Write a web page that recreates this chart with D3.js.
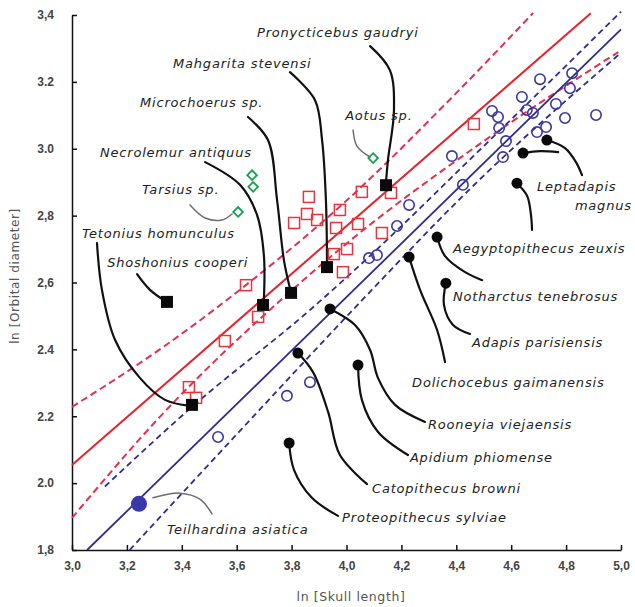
<!DOCTYPE html>
<html>
<head>
<meta charset="utf-8">
<script src="https://cdn.jsdelivr.net/npm/d3@7/dist/d3.min.js"></script>
<style>
  html, body { margin: 0; padding: 0; background: #fff; }
  svg { display: block; }
</style>
</head>
<body>
<svg id="chart" width="635" height="607"></svg>
<script>
// ---------- data ----------
const xTicks = [3.0, 3.2, 3.4, 3.6, 3.8, 4.0, 4.2, 4.4, 4.6, 4.8, 5.0];
const xTickLabels = ["3,0", "3,2", "3,4", "3,6", "3,8", "4,0", "4,2", "4,4", "4,6", "4,8", "5,0"];
const yTicks = [1.8, 2.0, 2.2, 2.4, 2.6, 2.8, 3.0, 3.2, 3.4];
const yTickLabels = ["1,8", "2.0", "2.2", "2.4", "2,6", "2,8", "3.0", "3.2", "3,4"];

// extant primates (open symbols)
const redSquares = [
  [3.426, 2.287], [3.452, 2.255], [3.557, 2.425], [3.634, 2.592], [3.678, 2.497],
  [3.809, 2.778], [3.856, 2.805], [3.863, 2.856], [3.893, 2.787], [3.962, 2.763],
  [3.954, 2.685], [3.976, 2.817], [4.002, 2.700], [3.987, 2.631], [4.042, 2.775],
  [4.056, 2.871], [4.129, 2.748], [4.162, 2.868], [4.464, 3.074]
];
const blueCircles = [
  [3.532, 2.138], [3.783, 2.261], [3.867, 2.302], [4.082, 2.673], [4.111, 2.682],
  [4.184, 2.769], [4.228, 2.832], [4.384, 2.978], [4.424, 2.892], [4.530, 3.113],
  [4.552, 3.095], [4.556, 3.062], [4.581, 3.023], [4.570, 2.975], [4.639, 3.155],
  [4.657, 3.116], [4.679, 3.107], [4.694, 3.050], [4.727, 3.065], [4.705, 3.208],
  [4.763, 3.134], [4.796, 3.092], [4.814, 3.181], [4.822, 3.226], [4.909, 3.101]
];
const greenDiamonds = [[3.656, 2.921], [3.660, 2.886], [3.605, 2.811], [4.097, 2.972]];

// fossils
const blackSquares = [
  ["Shoshonius cooperi", 3.346, 2.542],
  ["Tetonius homunculus", 3.437, 2.234],
  ["Necrolemur antiquus", 3.696, 2.533],
  ["Microchoerus sp.", 3.798, 2.569],
  ["Mahgarita stevensi", 3.929, 2.646],
  ["Pronycticebus gaudryi", 4.144, 2.891]
];
const blackCircles = [
  ["Leptadapis magnus", 4.730, 3.026],
  ["Leptadapis magnus", 4.643, 2.987],
  ["Aegyptopithecus zeuxis", 4.621, 2.897],
  ["Notharctus tenebrosus", 4.330, 2.736],
  ["Adapis parisiensis", 4.362, 2.598],
  ["Dolichocebus gaimanensis", 4.228, 2.676],
  ["Rooneyia viejaensis", 3.940, 2.521],
  ["Apidium phiomense", 4.042, 2.353],
  ["Catopithecus browni", 3.823, 2.389],
  ["Proteopithecus sylviae", 3.791, 2.120]
];
const teilhardina = [["Teilhardina asiatica", 3.244, 1.938]];

// regression lines and confidence bands (data units)
const redFit = [[3.0, 2.054], [4.89, 3.405]];
const redBandUpper = [[3.0, 2.228], [3.32, 2.40], [3.63, 2.59], [3.98, 2.83], [4.38, 3.15], [4.68, 3.406]];
const redBandLower = [[3.0, 1.896], [3.32, 2.198], [3.79, 2.569], [3.98, 2.703], [4.49, 3.017], [4.99, 3.289]];
const blueFit = [[3.055, 1.8], [5.0, 3.357]];
const blueBandUpper = [[3.12, 1.99], [3.44, 2.23], [3.87, 2.52], [4.02, 2.63], [4.49, 3.0], [5.0, 3.41]];
const blueBandLower = [[3.21, 1.80], [3.65, 2.19], [4.06, 2.55], [4.45, 2.88], [4.99, 3.28]];

// annotations: label text, anchor (data units)
const labels = [
  ["Pronycticebus gaudryi", 3.674, 3.349],
  ["Mahgarita stevensi", 3.368, 3.256],
  ["Microchoerus sp.", 3.248, 3.137],
  ["Necrolemur antiquus", 3.102, 2.990],
  ["Tarsius sp.", 3.255, 2.877],
  ["Tetonius homunculus", 3.036, 2.748],
  ["Shoshonius cooperi", 3.128, 2.661],
  ["Aotus sp.", 3.995, 3.101],
  ["Leptadapis", 4.694, 2.886],
  ["magnus", 4.832, 2.829],
  ["Aegyptopithecus zeuxis", 4.388, 2.703],
  ["Notharctus tenebrosus", 4.388, 2.557],
  ["Adapis parisiensis", 4.457, 2.422],
  ["Dolichocebus gaimanensis", 4.239, 2.302],
  ["Rooneyia viejaensis", 4.297, 2.174],
  ["Apidium phiomense", 4.231, 2.078],
  ["Catopithecus browni", 4.093, 1.985],
  ["Proteopithecus sylviae", 3.984, 1.896],
  ["Teilhardina asiatica", 3.346, 1.860]
];
// leader lines (data units); grey = light leader
const leaders = [
  {grey: false, pts: [[4.086, 3.307], [4.158, 3.235], [4.173, 3.116], [4.151, 2.966], [4.144, 2.900]]},
  {grey: false, pts: [[3.794, 3.229], [3.885, 3.146], [3.911, 3.026], [3.925, 2.847], [3.929, 2.661]]},
  {grey: false, pts: [[3.641, 3.095], [3.714, 3.026], [3.747, 2.847], [3.772, 2.667], [3.794, 2.583]]},
  {grey: false, pts: [[3.485, 2.960], [3.612, 2.892], [3.674, 2.802], [3.699, 2.682], [3.699, 2.548]]},
  {grey: true,  pts: [[3.430, 2.832], [3.485, 2.793], [3.546, 2.787], [3.583, 2.805]]},
  {grey: false, pts: [[3.091, 2.718], [3.109, 2.578], [3.157, 2.428], [3.248, 2.314], [3.339, 2.249], [3.430, 2.231]]},
  {grey: false, pts: [[3.237, 2.625], [3.284, 2.578], [3.339, 2.545]]},
  {grey: true,  pts: [[4.024, 3.056], [4.038, 3.008], [4.086, 2.975]]},
  {grey: false, pts: [[4.730, 3.026], [4.796, 3.002], [4.836, 2.960], [4.858, 2.921]]},
  {grey: false, pts: [[4.643, 2.987], [4.705, 2.993], [4.771, 2.990]]},
  {grey: false, pts: [[4.621, 2.897], [4.658, 2.859], [4.672, 2.802], [4.676, 2.757]]},
  {grey: false, pts: [[4.330, 2.736], [4.359, 2.679], [4.432, 2.631], [4.494, 2.607]]},
  {grey: false, pts: [[4.362, 2.598], [4.355, 2.533], [4.388, 2.473], [4.450, 2.446]]},
  {grey: false, pts: [[4.228, 2.676], [4.268, 2.578], [4.330, 2.458], [4.359, 2.362]]},
  {grey: false, pts: [[3.940, 2.521], [4.031, 2.473], [4.086, 2.398], [4.115, 2.314], [4.177, 2.234], [4.286, 2.183]]},
  {grey: false, pts: [[4.042, 2.353], [4.056, 2.249], [4.115, 2.153], [4.224, 2.084]]},
  {grey: false, pts: [[3.823, 2.389], [3.878, 2.332], [3.933, 2.213], [3.976, 2.084], [4.075, 1.997]]},
  {grey: false, pts: [[3.791, 2.120], [3.809, 2.039], [3.874, 1.956], [3.969, 1.902]]},
  {grey: true,  pts: [[3.295, 1.956], [3.393, 1.970], [3.466, 1.952], [3.510, 1.908]]}
];

// ---------- drawing ----------
const svg = d3.select("#chart");
const x = d3.scaleLinear().domain([3.0, 5.0]).range([72, 621]);
const y = d3.scaleLinear().domain([1.8, 3.4]).range([550, 15]);

const RED = "#e4232d", RED_D = "#e0314f", BLUE = "#2e2c8c", GREEN = "#17a04e";

// axes
const xAxis = d3.axisBottom(x).tickValues(xTicks)
  .tickFormat((d, i) => xTickLabels[i]).tickSizeInner(-5).tickSizeOuter(0).tickPadding(11);
const yAxis = d3.axisLeft(y).tickValues(yTicks)
  .tickFormat((d, i) => yTickLabels[i]).tickSizeInner(-5).tickSizeOuter(0).tickPadding(18);

function styleAxis(g) {
  g.select(".domain").attr("stroke", "#111").attr("stroke-width", 1.5);
  g.selectAll(".tick line").attr("stroke", "#111").attr("stroke-width", 1.5);
  g.selectAll(".tick text").attr("fill", "#444").attr("font-family", "Liberation Sans, Arial, sans-serif")
    .attr("font-weight", "bold").attr("font-size", 12);
}
svg.append("g").attr("transform", `translate(0,${y(1.8)})`).call(xAxis).call(styleAxis);
svg.append("g").attr("transform", `translate(${x(3.0)},0)`).call(yAxis).call(styleAxis);

// axis titles
svg.append("text").attr("x", 351).attr("y", 597).attr("text-anchor", "middle")
  .attr("dy", "0.35em").attr("font-family", "DejaVu Sans, sans-serif").attr("font-size", 12.5)
  .attr("letter-spacing", 0.6).attr("fill", "#555").text("ln [Skull length]");
svg.append("text").attr("transform", "translate(15,276) rotate(-90)").attr("text-anchor", "middle")
  .attr("dy", "0.35em").attr("font-family", "DejaVu Sans, sans-serif").attr("font-size", 12)
  .attr("letter-spacing", 0.6).attr("fill", "#555").text("ln [Orbital diameter]");

// fit lines
const line = d3.line().x(d => x(d[0])).y(d => y(d[1]));
const bandLine = d3.line().x(d => x(d[0])).y(d => y(d[1])).curve(d3.curveMonotoneX);
const gl = svg.append("g").attr("fill", "none");
gl.append("path").attr("d", bandLine(redBandUpper)).attr("stroke", RED_D).attr("stroke-width", 2).attr("stroke-dasharray", "7,4");
gl.append("path").attr("d", bandLine(redBandLower)).attr("stroke", RED_D).attr("stroke-width", 2).attr("stroke-dasharray", "7,4");
gl.append("path").attr("d", line(redFit)).attr("stroke", RED).attr("stroke-width", 2);
gl.append("path").attr("d", bandLine(blueBandUpper)).attr("stroke", BLUE).attr("stroke-width", 1.8).attr("stroke-dasharray", "6,4");
gl.append("path").attr("d", bandLine(blueBandLower)).attr("stroke", BLUE).attr("stroke-width", 1.8).attr("stroke-dasharray", "6,4");
gl.append("path").attr("d", line(blueFit)).attr("stroke", BLUE).attr("stroke-width", 1.8);

// leaders
const leaderLine = d3.line().x(d => x(d[0])).y(d => y(d[1])).curve(d3.curveCatmullRom.alpha(0.5));
svg.append("g").attr("fill", "none").selectAll("path").data(leaders).join("path")
  .attr("d", d => leaderLine(d.pts))
  .attr("stroke", d => d.grey ? "#6e6e6e" : "#111")
  .attr("stroke-width", d => d.grey ? 1.5 : 2.2)
  .attr("stroke-linecap", "round");

// extant points
svg.append("g").selectAll("rect").data(redSquares).join("rect")
  .attr("x", d => x(d[0]) - 5.5).attr("y", d => y(d[1]) - 5.5)
  .attr("width", 11).attr("height", 11)
  .attr("fill", "none").attr("stroke", "#e8343d").attr("stroke-width", 1.5);
svg.append("g").selectAll("circle").data(blueCircles).join("circle")
  .attr("cx", d => x(d[0])).attr("cy", d => y(d[1])).attr("r", 5.2)
  .attr("fill", "none").attr("stroke", "#3b36a0").attr("stroke-width", 1.6);
svg.append("g").selectAll("rect").data(greenDiamonds).join("rect")
  .attr("x", -3.4).attr("y", -3.4).attr("width", 6.8).attr("height", 6.8)
  .attr("transform", d => `translate(${x(d[0])},${y(d[1])}) rotate(45)`)
  .attr("fill", "none").attr("stroke", GREEN).attr("stroke-width", 1.8);

// fossils
svg.append("g").selectAll("rect").data(blackSquares).join("rect")
  .attr("x", d => x(d[1]) - 6).attr("y", d => y(d[2]) - 6)
  .attr("width", 12).attr("height", 12).attr("fill", "#0a0a0a");
svg.append("g").selectAll("circle").data(blackCircles).join("circle")
  .attr("cx", d => x(d[1])).attr("cy", d => y(d[2])).attr("r", 5.5).attr("fill", "#0a0a0a");
svg.append("g").selectAll("circle").data(teilhardina).join("circle")
  .attr("cx", d => x(d[1])).attr("cy", d => y(d[2])).attr("r", 8).attr("fill", "#3a38a8");

// labels
svg.append("g").selectAll("text").data(labels).join("text")
  .attr("x", d => x(d[1])).attr("y", d => y(d[2])).attr("dy", "0.35em")
  .attr("font-family", "DejaVu Sans, sans-serif").attr("font-style", "italic")
  .attr("font-size", 13).attr("letter-spacing", 0.8).attr("fill", "#222")
  .text(d => d[0]);
</script>
</body>
</html>
